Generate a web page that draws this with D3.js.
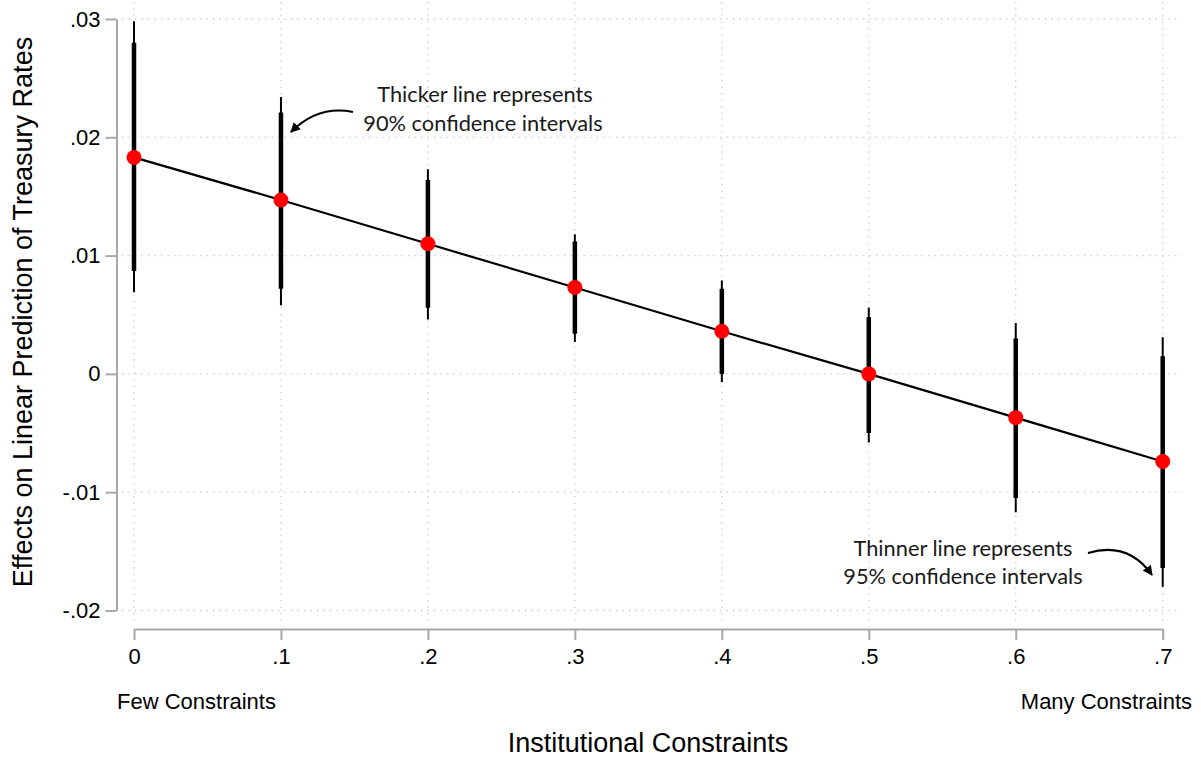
<!DOCTYPE html>
<html>
<head>
<meta charset="utf-8">
<script src="https://cdn.jsdelivr.net/npm/d3@7"></script>
<style>
  html, body { margin: 0; padding: 0; background: #fff; }
  svg { display: block; }
  .axis-text { font-family: "Liberation Sans", Arial, Helvetica, sans-serif; fill: #000; }
  .note { font-family: Lato, "Noto Sans", sans-serif; fill: #1a1a1a; }
</style>
</head>
<body>
<svg id="chart" width="1201" height="757"></svg>
<script>
// Institutional constraint levels
const constraintLevels = [0, 0.1, 0.2, 0.3, 0.4, 0.5, 0.6, 0.7];
const xTickLabels = ["0", ".1", ".2", ".3", ".4", ".5", ".6", ".7"];

// Marginal effects and confidence bounds
const effects = [0.0183, 0.0147, 0.0110, 0.0073, 0.0036, 0.0000, -0.0037, -0.0074];
const lower95 = [0.0069, 0.0058, 0.0046, 0.0027, -0.0007, -0.0058, -0.0117, -0.0180];
const upper95 = [0.0298, 0.0234, 0.0173, 0.0118, 0.0079, 0.0056, 0.0043, 0.0031];
const lower90 = [0.0087, 0.0072, 0.0056, 0.0034, 0.0000, -0.0050, -0.0105, -0.0164];
const upper90 = [0.0280, 0.0221, 0.0164, 0.0112, 0.0072, 0.0048, 0.0030, 0.0015];

const yTicks = [-0.02, -0.01, 0, 0.01, 0.02, 0.03];
const yTickLabels = ["-.02", "-.01", "0", ".01", ".02", ".03"];

const rows = constraintLevels.map((c, i) => ({
  c, est: effects[i], lo95: lower95[i], hi95: upper95[i], lo90: lower90[i], hi90: upper90[i]
}));

const svg = d3.select("#chart");

const x = d3.scaleLinear().domain([0, 0.7]).range([134, 1162.7]);
const y = d3.scaleLinear().domain([-0.02, 0.03]).range([610.5, 19]);

// Dotted grid
const grid = svg.append("g").attr("stroke", "#c8c8c8").attr("stroke-width", 1.3)
  .attr("stroke-dasharray", "1.3,5.2");
grid.selectAll("line.h").data(yTicks).join("line")
  .attr("x1", 122).attr("x2", 1182)
  .attr("y1", d => y(d)).attr("y2", d => y(d));
grid.selectAll("line.v").data(constraintLevels).join("line")
  .attr("y1", 2).attr("y2", 622)
  .attr("x1", d => x(d)).attr("x2", d => x(d));

// Y axis
const yAxis = d3.axisLeft(y).tickValues(yTicks)
  .tickFormat((d, i) => yTickLabels[i]).tickSize(11).tickSizeOuter(0).tickPadding(5);
const gy = svg.append("g").attr("transform", "translate(116.5,0)").call(yAxis);
gy.select(".domain").attr("stroke", "#a8a8a8").attr("stroke-width", 2);
gy.selectAll(".tick line").attr("stroke", "#a8a8a8").attr("stroke-width", 2);
gy.selectAll(".tick text").attr("class", "axis-text").style("font-size", "22px");

// X axis
const xAxis = d3.axisBottom(x).tickValues(constraintLevels)
  .tickFormat((d, i) => xTickLabels[i]).tickSize(11).tickSizeOuter(0).tickPadding(8);
const gx = svg.append("g").attr("transform", "translate(0,629)").call(xAxis);
gx.select(".domain").attr("stroke", "#a8a8a8").attr("stroke-width", 2);
gx.selectAll(".tick line").attr("stroke", "#a8a8a8").attr("stroke-width", 2);
gx.selectAll(".tick text").attr("class", "axis-text").style("font-size", "22px");

// Axis titles and end labels
svg.append("text").attr("class", "axis-text")
  .attr("x", 117).attr("y", 709).style("font-size", "22px")
  .text("Few Constraints");
svg.append("text").attr("class", "axis-text")
  .attr("x", 1192).attr("y", 709).attr("text-anchor", "end").style("font-size", "22px")
  .text("Many Constraints");
svg.append("text").attr("class", "axis-text")
  .attr("x", 648).attr("y", 752).attr("text-anchor", "middle").style("font-size", "27px")
  .text("Institutional Constraints");
svg.append("text").attr("class", "axis-text")
  .attr("transform", "translate(32,312) rotate(-90)")
  .attr("text-anchor", "middle").style("font-size", "27px")
  .text("Effects on Linear Prediction of Treasury Rates");

// Confidence intervals: thin 95%, thick 90%
svg.append("g").selectAll("line").data(rows).join("line")
  .attr("x1", d => x(d.c)).attr("x2", d => x(d.c))
  .attr("y1", d => y(d.hi95)).attr("y2", d => y(d.lo95))
  .attr("stroke", "#000").attr("stroke-width", 2);
svg.append("g").selectAll("line").data(rows).join("line")
  .attr("x1", d => x(d.c)).attr("x2", d => x(d.c))
  .attr("y1", d => y(d.hi90)).attr("y2", d => y(d.lo90))
  .attr("stroke", "#000").attr("stroke-width", 4.5);

// Fitted line
svg.append("path").datum(rows)
  .attr("d", d3.line().x(d => x(d.c)).y(d => y(d.est)))
  .attr("fill", "none").attr("stroke", "#000").attr("stroke-width", 2.2);

// Point estimates
svg.append("g").selectAll("circle").data(rows).join("circle")
  .attr("cx", d => x(d.c)).attr("cy", d => y(d.est)).attr("r", 7.5)
  .attr("fill", "#ff0000");

// Annotations
svg.append("defs").append("marker")
  .attr("id", "head").attr("viewBox", "0 0 10 10").attr("refX", 9).attr("refY", 5)
  .attr("markerWidth", 5).attr("markerHeight", 5).attr("orient", "auto")
  .attr("markerUnits", "strokeWidth")
  .append("path").attr("d", "M0,0 L10,5 L0,10 z").attr("fill", "#000");

const note1 = svg.append("text").attr("class", "note").attr("text-anchor", "middle")
  .style("font-size", "21.8px");
note1.append("tspan").attr("x", 485).attr("y", 102).text("Thicker line represents");
note1.append("tspan").attr("x", 483).attr("y", 131).text("90% confidence intervals");
svg.append("path").attr("d", "M353,112 Q318,105 291,132")
  .attr("fill", "none").attr("stroke", "#000").attr("stroke-width", 2)
  .attr("marker-end", "url(#head)");

const note2 = svg.append("text").attr("class", "note").attr("text-anchor", "middle")
  .style("font-size", "21.8px");
note2.append("tspan").attr("x", 963).attr("y", 556).text("Thinner line represents");
note2.append("tspan").attr("x", 963).attr("y", 584).text("95% confidence intervals");
svg.append("path").attr("d", "M1088,553 Q1128,541 1152,575")
  .attr("fill", "none").attr("stroke", "#000").attr("stroke-width", 2)
  .attr("marker-end", "url(#head)");
</script>
</body>
</html>
